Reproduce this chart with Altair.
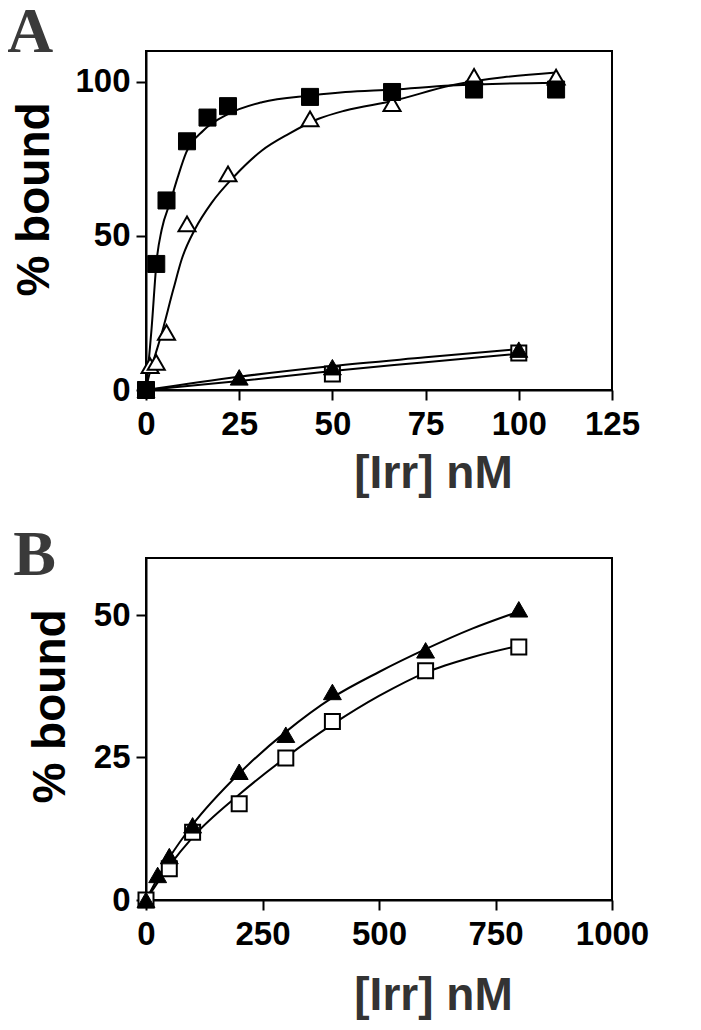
import altair as alt
import pandas as pd

# ---------------- Panel A ----------------
# filled squares (high affinity)
a_sq_x = [0, 2.75, 5.5, 11, 16.5, 22, 44, 66, 88, 110]
a_sq_y = [0, 40.9, 61.5, 80.7, 88.4, 92.1, 95.1, 96.7, 97.5, 97.5]
a_sq_fit_x = [0, 1.5, 2.9, 4.2, 6.5, 8.5, 10.8, 15.4, 22.1, 31.1, 44.4, 53.5, 66.2, 81.7, 110]
a_sq_fit_y = [0, 20, 42.5, 52, 61, 69, 77.1, 84.2, 89.6, 93.4, 95.6, 96.7, 97.5, 98.8, 99.7]

# open triangles (upper)
a_otri_x = [1.1, 2.75, 5.5, 11, 22, 44, 66, 88, 110]
a_otri_y = [7.9, 9.0, 18.7, 53.9, 70.1, 88.0, 92.9, 101.8, 101.5]
a_otri_fit_x = [0, 0.6, 2.4, 3.8, 7.3, 9.6, 13.2, 17.7, 23.9, 31.1, 38.3, 46.3, 53.5, 66.2, 81.7, 110]
a_otri_fit_y = [0, 3.6, 11.1, 16.6, 32.5, 42.5, 52.3, 60.9, 69.6, 77.7, 83.1, 88.0, 90.7, 93.8, 98.8, 103.0]

# filled triangles (lower)
a_ftri_x = [0, 25, 50, 100]
a_ftri_y = [0, 4.1, 7.4, 13.1]
a_ftri_fit_x = [0, 25, 50, 75, 100]
a_ftri_fit_y = [0, 4.3, 7.8, 10.6, 13.3]

# open squares (lower)
a_osq_x = [0, 50, 100]
a_osq_y = [0, 5.2, 12.0]
a_osq_fit_x = [0, 25, 50, 75, 100]
a_osq_fit_y = [0, 2.9, 6.2, 9.0, 11.8]

# ---------------- Panel B ----------------
b_ftri_x = [0, 25, 50, 100, 200, 300, 400, 600, 800]
b_ftri_y = [0, 4.4, 7.7, 13.1, 22.5, 29.0, 36.5, 43.8, 51.0]
b_ftri_fit_x = [0, 50, 100, 200, 300, 400, 500, 600, 700, 800]
b_ftri_fit_y = [0, 7.4, 13.2, 22.2, 29.5, 35.5, 40.0, 44.0, 47.6, 50.6]

b_osq_x = [0, 50, 100, 200, 300, 400, 600, 800]
b_osq_y = [0, 5.5, 11.9, 16.9, 24.9, 31.3, 40.2, 44.4]
b_osq_fit_x = [0, 50, 100, 200, 300, 400, 500, 600, 700, 800]
b_osq_fit_y = [0, 6.0, 11.0, 18.5, 25.0, 30.8, 35.8, 39.9, 42.6, 44.6]

a_xticks = [0, 25, 50, 75, 100, 125]
a_yticks = [0, 50, 100]
b_xticks = [0, 250, 500, 750, 1000]
b_yticks = [0, 25, 50]

x_title = "[Irr] nM"
y_title = "% bound"


def df(xs, ys):
    return pd.DataFrame({"x": xs, "y": ys})


def make_panel(series, xdom, xticks, ydom, yticks, letter, t_offset, t_dx,
               x_tpad, y_tpad, h):
    xenc = alt.X("x:Q", scale=alt.Scale(domain=xdom, nice=False),
                 axis=alt.Axis(values=xticks, title=x_title, titleX=287,
                               titlePadding=x_tpad, labelPadding=8, format="d",
                               titleFontSize=46, titleColor="#333333"))
    yenc = alt.Y("y:Q", scale=alt.Scale(domain=ydom, nice=False),
                 axis=alt.Axis(values=yticks, title=y_title, titleY=148,
                               titlePadding=y_tpad, labelPadding=6, format="d",
                               titleFontSize=46, titleColor="black"))
    layers = []
    for pts, fit, shape, fill, size, sw in series:
        layers.append(
            alt.Chart(fit).mark_line(color="black", strokeWidth=2,
                                     interpolate="monotone").encode(x=xenc, y=yenc)
        )
    for pts, fit, shape, fill, size, sw in series:
        layers.append(
            alt.Chart(pts).mark_point(shape=shape, fill=fill, stroke="black",
                                      strokeWidth=sw, size=size, opacity=1,
                                      filled=True).encode(x=xenc, y=yenc)
        )
    return alt.layer(*layers).properties(
        width=466, height=h,
        title=alt.TitleParams(text=letter, anchor="start", frame="bounds",
                              font="Liberation Serif", fontSize=64,
                              fontWeight="bold", color="#3a3a3a",
                              offset=t_offset, dx=t_dx),
    )


panel_a = make_panel(
    [
        (df(a_osq_x, a_osq_y), df(a_osq_fit_x, a_osq_fit_y), "square", "white", 225, 2),
        (df(a_ftri_x, a_ftri_y), df(a_ftri_fit_x, a_ftri_fit_y), "triangle-up", "black", 320, 1),
        (df(a_otri_x, a_otri_y), df(a_otri_fit_x, a_otri_fit_y), "triangle-up", "white", 290, 2),
        (df(a_sq_x, a_sq_y), df(a_sq_fit_x, a_sq_fit_y), "square", "black", 290, 1),
    ],
    [0, 125], a_xticks, [0, 110], a_yticks, "A", -14, -5, 10, 16, 339,
)

panel_b = make_panel(
    [
        (df(b_osq_x, b_osq_y), df(b_osq_fit_x, b_osq_fit_y), "square", "white", 225, 2),
        (df(b_ftri_x, b_ftri_y), df(b_ftri_fit_x, b_ftri_fit_y), "triangle-up", "black", 320, 1),
    ],
    [0, 1000], b_xticks, [0, 60], b_yticks, "B", -30, -14, 22, 19, 342,
)

chart = alt.vconcat(panel_a, panel_b, spacing=26).properties(
    padding={"left": -3, "top": -8, "right": 5, "bottom": 5},
    background="white",
).configure_view(
    stroke="black", strokeWidth=2
).configure_axis(
    domainColor="black", domainWidth=2, tickColor="black", tickWidth=2,
    tickSize=10, labelFont="Liberation Sans", labelFontWeight="bold",
    labelFontSize=33, labelColor="black", titleFont="Liberation Sans",
    titleFontWeight="bold", grid=False, labelFlush=False, labelOverlap=False,
)

chart.save("out.html", embed_options={"renderer": "svg", "actions": False})
